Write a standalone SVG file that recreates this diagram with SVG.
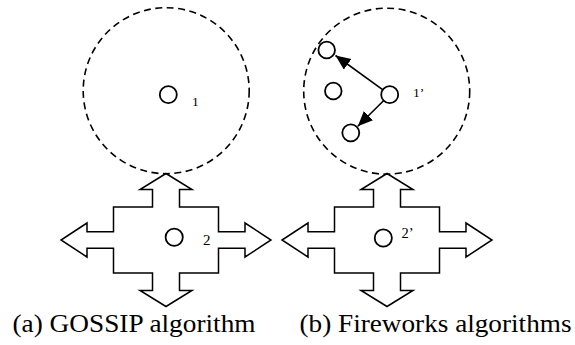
<svg xmlns="http://www.w3.org/2000/svg" width="575" height="345" viewBox="0 0 575 345">
<style>
.bg{fill:#fff}
.range{fill:none;stroke:#000;stroke-width:1.6;stroke-dasharray:7 4.5}
.node{fill:#fff;stroke:#000;stroke-width:1.8}
.cross{fill:none;stroke:#000;stroke-width:1.5;stroke-linejoin:miter}
.edge{stroke:#000;stroke-width:1.6;fill:none}
.lbl{font-family:'Liberation Serif', serif;font-size:13.5px;fill:#000}
.cap{font-family:'Liberation Serif', serif;font-size:25px;fill:#000}
</style>
<defs>
<marker id="ah" markerUnits="userSpaceOnUse" markerWidth="16" markerHeight="14" refX="15" refY="6.5" orient="auto">
<path d="M0,0 L15,6.5 L0,13 Z" fill="#000"/>
</marker>
<path id="crossShape" d="M0,-66.5 L26,-50.5 L13.5,-50.5 L13.5,-33 L52.5,-33 L52.5,-8.3 L79,-8.3 L79,-17 L105,0 L79,17 L79,8.3 L52.5,8.3 L52.5,33 L13.5,33 L13.5,50.5 L26,50.5 L0,66.5 L-26,50.5 L-13.5,50.5 L-13.5,33 L-52.5,33 L-52.5,8.3 L-79,8.3 L-79,17 L-105,0 L-79,-17 L-79,-8.3 L-52.5,-8.3 L-52.5,-33 L-13.5,-33 L-13.5,-50.5 L-26,-50.5 Z"/>
</defs>
<rect class="bg" x="0" y="0" width="575" height="345"/>

<g id="range-a">
<circle class="range" cx="166.2" cy="90.7" r="83"/>
</g>
<g id="range-b">
<circle class="range" cx="386.7" cy="91.2" r="83"/>
</g>

<g id="cross-a">
<use href="#crossShape" class="cross" transform="translate(166,240)"/>
</g>
<g id="cross-b">
<use href="#crossShape" class="cross" transform="translate(387,240)"/>
</g>

<g id="node-1">
<circle class="node" cx="168.3" cy="94.7" r="8.5"/>
<text class="lbl" x="192" y="106">1</text>
</g>
<g id="node-2">
<circle class="node" cx="174.2" cy="237.2" r="8.6"/>
<text class="lbl" x="203" y="245" style="font-size:15px">2</text>
</g>

<g id="node-1p">
<circle class="node" cx="389.7" cy="94.7" r="8.5"/>
<text class="lbl" x="413" y="97">1’</text>
</g>
<g id="node-b-a">
<circle class="node" cx="326.7" cy="50" r="8.3"/>
</g>
<g id="node-b-b">
<circle class="node" cx="333.3" cy="91" r="8.3"/>
</g>
<g id="node-b-c">
<circle class="node" cx="350.8" cy="132.8" r="8.5"/>
</g>
<g id="node-2p">
<circle class="node" cx="383.3" cy="238" r="8.6"/>
<text class="lbl" x="401.5" y="238" style="font-size:14.5px">2’</text>
</g>

<g id="connectors">
<line class="edge" x1="382.6" y1="89.7" x2="335.5" y2="55.5" marker-end="url(#ah)"/>
<line class="edge" x1="383.5" y1="100.8" x2="357.8" y2="126.3" marker-end="url(#ah)"/>
</g>

<g id="captions">
<text class="cap" x="12.5" y="332" textLength="243" lengthAdjust="spacingAndGlyphs">(a) GOSSIP algorithm</text>
<text class="cap" x="299.5" y="332" textLength="272" lengthAdjust="spacingAndGlyphs">(b) Fireworks algorithms</text>
</g>
</svg>
